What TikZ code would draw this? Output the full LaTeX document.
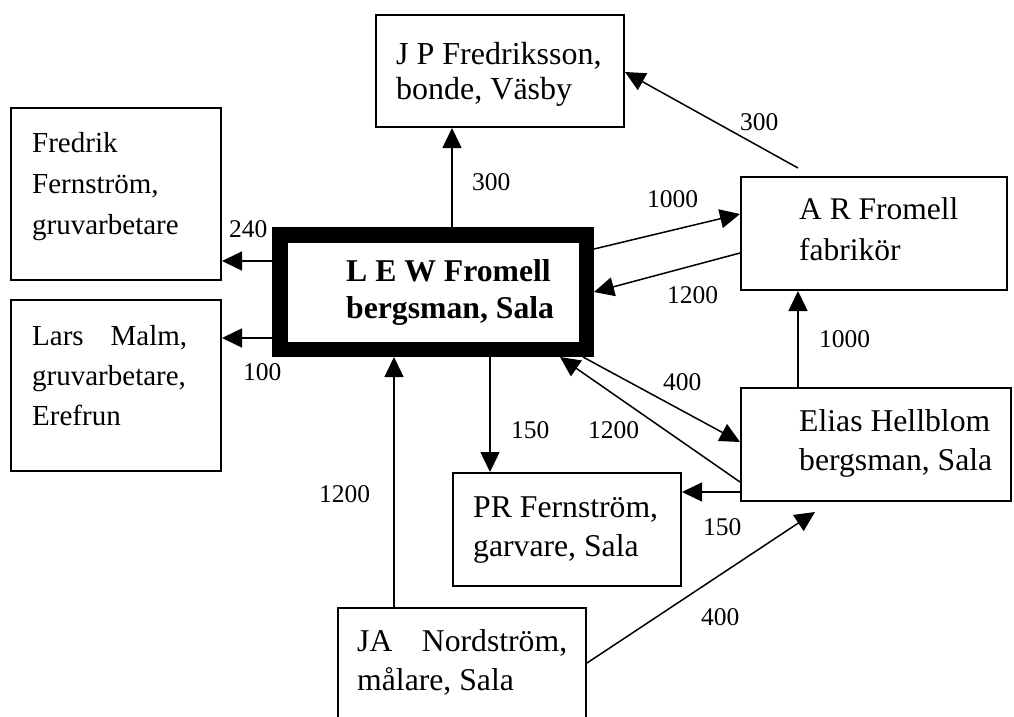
\documentclass[tikz,border=0pt]{standalone}
\usepackage{fontspec}
\setmainfont{Liberation Serif}
\usetikzlibrary{arrows.meta,calc}
\newcommand\lns[2]{\vtop{\baselineskip=#1pt\lineskiplimit=-100pt\relax #2}}
% box: name, x1, y1, x2, y2 (outer edges), style
\newcommand\bx[6]{\node[#6,minimum width={#4-#2-1.8},minimum height={#5-#3-1.8}] (#1) at ({(#2+#4)/2},{(#3+#5)/2}) {};}
\begin{document}
\begin{tikzpicture}[x=1pt,y=-1pt,
  box/.style={draw,line width=1.8pt,rectangle,inner sep=0pt},
  mainbox/.style={draw,line width=15.5pt,rectangle,inner sep=0pt},
  arr/.style={line width=1.5pt,-{Triangle[length=20pt,width=19pt]}},
  plain/.style={line width=1.5pt},
  txt/.style={inner sep=0pt,anchor=base west,font=\fontsize{31.7pt}{39pt}\selectfont},
  smtxt/.style={inner sep=0pt,anchor=base west,font=\fontsize{29pt}{41pt}\selectfont},
  num/.style={inner sep=0pt,anchor=base west,font=\fontsize{25.5pt}{30pt}\selectfont}]
\path[use as bounding box,fill=white] (0,0) rectangle (1014,717);
\clip (0,0) rectangle (1014,717);

% boxes
\bx{jp}{375}{14}{625}{128}{box}
\bx{ff}{10}{107}{222}{281}{box}
\bx{lm}{10}{299}{222}{472}{box}
\node[mainbox,minimum width=306.5,minimum height=114.5] (lew) at (433,292) {};
\bx{ar}{740}{176}{1008}{291}{box}
\bx{eh}{740}{387}{1012}{502}{box}
\bx{pr}{452}{472}{682}{587}{box}
\bx{ja}{337}{607}{587}{790}{box}

% texts
\node[txt] (jpT) at (396,65) {\fontsize{32pt}{34pt}\selectfont\lns{34}{\hbox{J P Fredriksson,}\hbox{bonde, Väsby}}};
\node[smtxt] (ffT) at (32,152) {\lns{41}{\hbox{Fredrik}\hbox{Fernström,}\hbox{gruvarbetare}}};
\node[smtxt] (lmT) at (32,345) {\lns{40}{\hbox to 155pt{Lars\hfill Malm,}\hbox{gruvarbetare,}\hbox{Erefrun}}};
\node[txt] (lewT) at (346,281) {\bfseries\lns{37}{\hbox{L E W Fromell}\hbox{bergsman, Sala}}};
\node[txt] (arT) at (799,219) {\fontsize{31.5pt}{41pt}\selectfont\lns{41}{\hbox{A R Fromell}\hbox{fabrikör}}};
\node[txt] (ehT) at (799,431) {\lns{39}{\hbox{Elias Hellblom}\hbox{bergsman, Sala}}};
\node[txt] (prT) at (473,517) {\lns{39}{\hbox{PR Fernström,}\hbox{garvare, Sala}}};
\node[txt] (jaT) at (357,651) {\lns{39}{\hbox to 210pt{JA\hfill Nordström,}\hbox{målare, Sala}}};

% connectors
\coordinate (arStart) at ($(ar.north -| 798,0)+(0,-8)$);
\coordinate (ehTip) at ($(eh.south -| 815,0)+(0,10)$);
\draw[arr] (lew.north -| 452,0) -- (jp.south -| 452,0);
\draw[arr] (arStart) -- (jp.east |- 0,72);
\draw[arr] (lew.east |- 0,249) -- (ar.west |- 0,214);
\draw[arr] (ar.west |- 0,253) -- (lew.east |- 0,292);
\draw[arr] (eh.north -| 798,0) -- (ar.south -| 798,0);
\draw[arr] (lew.south -| 583,0) -- (eh.west |- 0,442);
\draw[arr] (eh.west |- 0,482) -- (lew.south -| 560,0);
\draw[arr] (lew.south -| 490,0) -- (pr.north -| 490,0);
\draw[arr] (eh.west |- 0,492) -- (pr.east |- 0,492);
\draw[arr] (ja.east |- 0,663) -- (ehTip);
\draw[arr] (ja.north -| 394,0) -- (lew.south -| 394,0);
\draw[arr] (lew.west |- 0,261) -- (ff.east |- 0,261);
\draw[arr] (lew.west |- 0,338) -- (lm.east |- 0,338);

% labels
\node[num] (l1) at (472,190) {300};
\node[num] (l2) at (740,130) {300};
\node[num] (l3) at (647,207) {1000};
\node[num] (l4) at (667,303) {1200};
\node[num] (l5) at (819,347) {1000};
\node[num] (l6) at (663,390) {400};
\node[num] (l7) at (588,438) {1200};
\node[num] (l8) at (511,438) {150};
\node[num] (l9) at (703,535) {150};
\node[num] (l10) at (701,625) {400};
\node[num] (l11) at (319,502) {1200};
\node[num] (l12) at (229,237) {240};
\node[num] (l13) at (243,380) {100};
\end{tikzpicture}
\end{document}
